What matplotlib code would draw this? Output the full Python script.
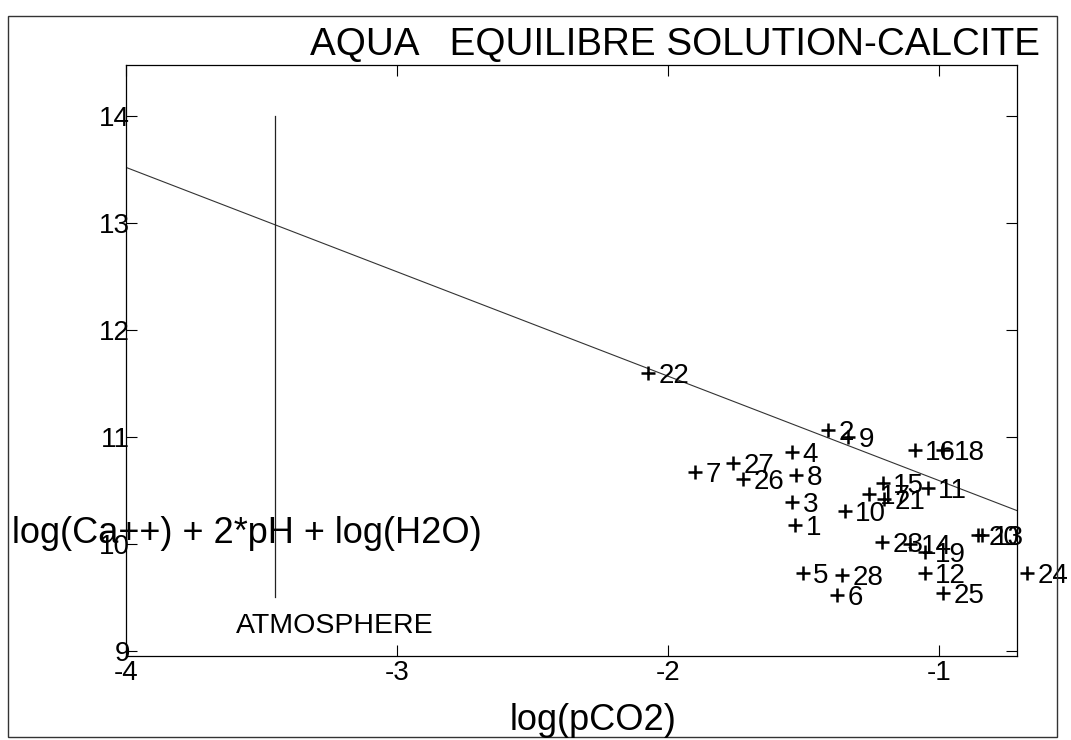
import matplotlib
matplotlib.use("Agg")
import matplotlib.pyplot as plt
from matplotlib.patches import Rectangle

plt.rcParams["font.family"] = ["Liberation Sans", "DejaVu Sans"]
plt.rcParams["axes.unicode_minus"] = False

# Echantillons : log(pCO2) et log(Ca++) + 2*pH + log(H2O)
numeros = list(range(1, 29))
log_pco2 = [-1.531, -1.410, -1.542, -1.542, -1.502, -1.376, -1.900, -1.528,
            -1.336, -1.347, -1.041, -1.052, -0.841, -1.107, -1.207, -1.089,
            -1.258, -0.985, -1.052, -0.856, -1.203, -2.074, -1.210, -0.675,
            -0.985, -1.723, -1.760, -1.358]
indice = [10.178, 11.065, 10.393, 10.860, 9.729, 9.523, 10.673, 10.645,
          11.000, 10.308, 10.523, 9.729, 10.084, 10.000, 10.570, 10.879,
          10.467, 10.879, 9.925, 10.084, 10.421, 11.598, 10.019, 9.729,
          9.542, 10.607, 10.757, 9.710]

# droite d'equilibre solution-calcite
eq_x = [-4.0, -0.71]
eq_y = [13.52, 10.31]

# pCO2 atmospherique
atm_x = -3.45
atm_y = [9.5, 14.0]

x_ticks = [-4, -3, -2, -1]
y_ticks = [9, 10, 11, 12, 13, 14]

fig = plt.figure(figsize=(10.71, 7.40), dpi=100)
ax = fig.add_axes([126 / 1071, 1 - 656 / 740, 891 / 1071, 591 / 740])

ax.plot(eq_x, eq_y, color="#333333", lw=0.8)
ax.plot([atm_x, atm_x], atm_y, color="#222222", lw=0.9)
ax.text(atm_x - 0.145, 9.17, "ATMOSPHERE", fontsize=20.5, ha="left", va="baseline")

ax.plot(log_pco2, indice, ls="none", marker="+", ms=10, mew=1.8,
        color="black", clip_on=False)
for n, x, y in zip(numeros, log_pco2, indice):
    ax.annotate(str(n), (x, y), xytext=(7.5, -7.2), textcoords="offset points",
                fontsize=20, ha="left", va="baseline", annotation_clip=False)

ax.set_xlim(-4.0, -0.712)
ax.set_ylim(8.953, 14.477)
ax.set_xticks(x_ticks)
ax.set_yticks(y_ticks)
ax.tick_params(direction="in", length=8, width=0.8, top=True, right=True,
               labelsize=20)
ax.tick_params(axis="y", pad=-3)
ax.tick_params(axis="x", pad=3)
for s in ax.spines.values():
    s.set_linewidth(0.9)

fig.text(12 / 1071, 1 - 543 / 740, "log(Ca++) + 2*pH + log(H2O)",
         fontsize=26, ha="left", va="baseline")
fig.text(593 / 1071, 1 - 730 / 740, "log(pCO2)",
         fontsize=26, ha="center", va="baseline")
fig.text(1040 / 1071, 1 - 55 / 740, "AQUA   EQUILIBRE SOLUTION-CALCITE",
         fontsize=27.8, ha="right", va="baseline")

# cadre exterieur
fig.patches.append(Rectangle((8 / 1071, 1 - 737 / 740), 1049 / 1071, 721 / 740,
                             transform=fig.transFigure, fill=False,
                             lw=1.0, ec="#333333"))

fig.savefig("out.png", dpi=100)
